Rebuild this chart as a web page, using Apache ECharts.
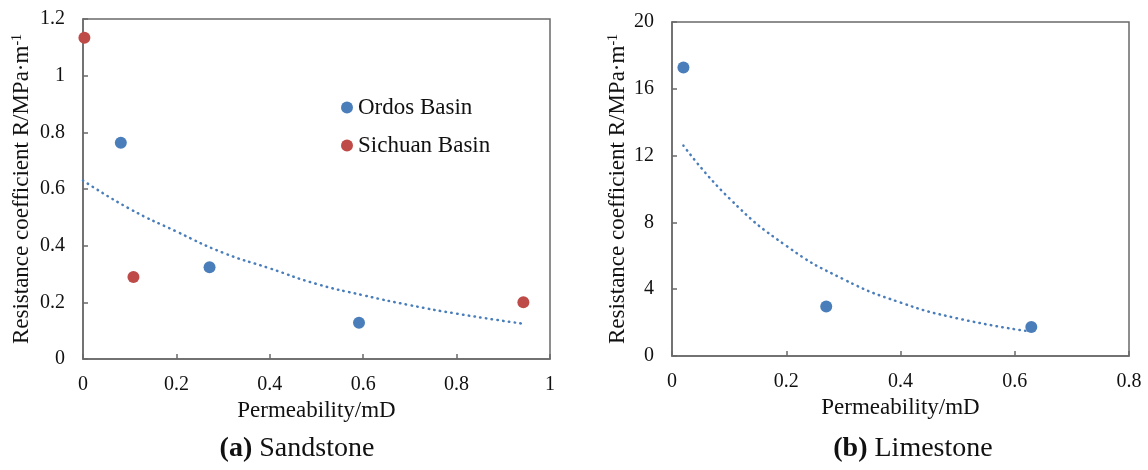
<!DOCTYPE html>
<html>
<head>
<meta charset="utf-8">
<script src="https://cdn.jsdelivr.net/npm/echarts@6/dist/echarts.min.js"></script>
<style>
  html, body { margin: 0; padding: 0; background: #fff; }
  #main { width: 1148px; height: 470px; }
</style>
</head>
<body>
<div id="main"></div>
<script>
// (a) Sandstone: [permeability mD, resistance coefficient]
const ordosBasin = [[0.081, 0.763], [0.271, 0.324], [0.591, 0.128]]
const sichuanBasin = [[0.003, 1.134], [0.108, 0.289], [0.943, 0.2]]
// dotted trend curve
const sandTrendX = [0, 0.1, 0.2, 0.3, 0.4, 0.5, 0.6, 0.7, 0.8, 0.94]
const sandTrendY = [0.63, 0.53, 0.45, 0.375, 0.32, 0.265, 0.225, 0.19, 0.16, 0.125]

// (b) Limestone
const limestone = [[0.02, 17.27], [0.27, 2.97], [0.629, 1.74]]
const limeTrendX = [0.02, 0.1, 0.2, 0.3, 0.4, 0.5, 0.62]
const limeTrendY = [12.6, 9.45, 6.6, 4.6, 3.2, 2.25, 1.5]

const xTitle = 'Permeability/mD'
const captions = ['Sandstone', 'Limestone']

const FONT = '"Liberation Serif", "Times New Roman", serif'
const BLUE = '#4a7ebb'
const RED = '#be4b48'
const AXIS = '#6a6a6a'

const zip = (xs, ys) => xs.map((x, i) => [x, ys[i]])

const yName = {
  text: '{m|Resistance coefficient R/MPa·m}{s|-1}',
  rich: {
    m: { fontFamily: FONT, fontSize: 23, color: '#111', lineHeight: 23 },
    s: { fontFamily: FONT, fontSize: 14, color: '#111', lineHeight: 14, verticalAlign: 'top' }
  }
}

function xAxis(gridIndex, max) {
  return {
    type: 'value', gridIndex, min: 0, max, interval: 0.2,
    name: xTitle, nameLocation: 'middle', nameGap: 37,
    nameTextStyle: { fontFamily: FONT, fontSize: 23, color: '#111' },
    axisLine: { lineStyle: { color: AXIS, width: 1.5 } },
    axisTick: { inside: true, length: 5, lineStyle: { color: AXIS, width: 1.5 } },
    axisLabel: { fontFamily: FONT, fontSize: 20, color: '#111', margin: 16 },
    splitLine: { show: false }
  }
}

function yAxis(gridIndex, max, interval, gap) {
  return {
    type: 'value', gridIndex, min: 0, max, interval,
    name: yName.text, nameLocation: 'middle', nameGap: gap,
    nameTextStyle: { rich: yName.rich },
    axisLine: { lineStyle: { color: AXIS, width: 1.5 } },
    axisTick: { inside: true, length: 5, lineStyle: { color: AXIS, width: 1.5 } },
    axisLabel: { fontFamily: FONT, fontSize: 20, color: '#111', margin: 18 },
    splitLine: { show: false }
  }
}

const trendStyle = { color: BLUE, width: 2.5, type: [0.5, 5.3], cap: 'round', opacity: 1 }

const chart = echarts.init(document.getElementById('main'))
chart.setOption({
  animation: false,
  backgroundColor: '#fff',
  grid: [
    { left: 83, top: 19, width: 467, height: 340, show: true, borderColor: AXIS, borderWidth: 1.5, backgroundColor: '#fff' },
    { left: 672, top: 22, width: 457, height: 334, show: true, borderColor: AXIS, borderWidth: 1.5, backgroundColor: '#fff' }
  ],
  xAxis: [xAxis(0, 1), xAxis(1, 0.8)],
  yAxis: [yAxis(0, 1.2, 0.2, 50), yAxis(1, 20, 4, 43)],
  legend: {
    data: ['Ordos Basin', 'Sichuan Basin'],
    orient: 'vertical', left: 341, top: 96, padding: 0,
    itemWidth: 12, itemHeight: 12, itemGap: 15,
    icon: 'circle',
    textStyle: { fontFamily: FONT, fontSize: 23, color: '#111', lineHeight: 23 }
  },
  series: [
    {
      name: 'sand trend', type: 'line', xAxisIndex: 0, yAxisIndex: 0,
      data: zip(sandTrendX, sandTrendY), smooth: true, showSymbol: false,
      lineStyle: trendStyle, z: 1
    },
    {
      name: 'Ordos Basin', type: 'scatter', xAxisIndex: 0, yAxisIndex: 0,
      data: ordosBasin, symbolSize: 12, itemStyle: { color: BLUE, opacity: 1 }, z: 3
    },
    {
      name: 'Sichuan Basin', type: 'scatter', xAxisIndex: 0, yAxisIndex: 0,
      data: sichuanBasin, symbolSize: 12, itemStyle: { color: RED, opacity: 1 }, z: 3
    },
    {
      name: 'lime trend', type: 'line', xAxisIndex: 1, yAxisIndex: 1,
      data: zip(limeTrendX, limeTrendY), smooth: true, showSymbol: false,
      lineStyle: trendStyle, z: 1
    },
    {
      name: 'Limestone', type: 'scatter', xAxisIndex: 1, yAxisIndex: 1,
      data: limestone, symbolSize: 12, itemStyle: { color: BLUE, opacity: 1 }, z: 3
    }
  ],
  graphic: [
    {
      type: 'text', x: 297, y: 449,
      style: {
        text: '{b|(a)}{n| ' + captions[0] + '}', align: 'center', verticalAlign: 'middle',
        rich: {
          b: { fontFamily: FONT, fontSize: 28, fontWeight: 'bold', fill: '#111' },
          n: { fontFamily: FONT, fontSize: 28, fill: '#111' }
        }
      }
    },
    {
      type: 'text', x: 913, y: 449,
      style: {
        text: '{b|(b)}{n| ' + captions[1] + '}', align: 'center', verticalAlign: 'middle',
        rich: {
          b: { fontFamily: FONT, fontSize: 28, fontWeight: 'bold', fill: '#111' },
          n: { fontFamily: FONT, fontSize: 28, fill: '#111' }
        }
      }
    }
  ]
})
</script>
</body>
</html>
